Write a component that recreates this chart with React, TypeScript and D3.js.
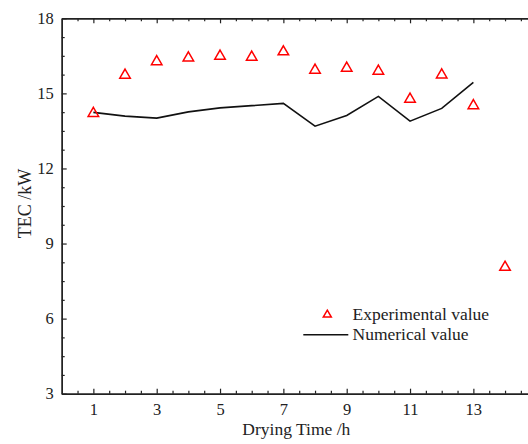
import { useRef, useEffect } from "react";
import { select, scaleLinear, axisBottom, axisLeft, axisTop, axisRight, line, range, symbol, symbolTriangle } from "d3";

const hours = [1, 2, 3, 4, 5, 6, 7, 8, 9, 10, 11, 12, 13, 14];
const experimental = [14.24, 15.77, 16.31, 16.46, 16.53, 16.49, 16.7, 15.97, 16.05, 15.93, 14.81, 15.78, 14.55, 8.09];
const numHours = [1, 2, 3, 4, 5, 6, 7, 8, 9, 10, 11, 12, 13];
const numerical = [14.24, 14.09, 14.01, 14.26, 14.42, 14.51, 14.6, 13.69, 14.12, 14.88, 13.89, 14.4, 15.44];
const xTicks = [1, 3, 5, 7, 9, 11, 13];
const yTicks = [3, 6, 9, 12, 15, 18];

const W = 528;
const H = 444;
const margin = { top: 18.3, left: 61.7, bottom: 50.3 };
const FONT = "'Liberation Serif', 'Times New Roman', serif";
const INK = "#222";

export default function App() {
  const svgRef = useRef<SVGSVGElement>(null);

  useEffect(() => {
    const svg = select(svgRef.current);
    svg.selectAll("*").remove();

    const x = scaleLinear().domain([0, 15]).range([margin.left, margin.left + 15 * 31.667]);
    const y = scaleLinear().domain([3, 18]).range([H - margin.bottom, margin.top]);
    const bottom = H - margin.bottom;

    const xMinor = range(0.5, 15, 0.5).filter((v) => !xTicks.includes(v));
    const yMinor = range(3, 18, 0.75).filter((v) => !yTicks.includes(v));

    const styleAxis = (g: any) => {
      g.select(".domain").attr("stroke", INK).attr("stroke-width", 1.4);
      g.selectAll(".tick line").attr("stroke", INK).attr("stroke-width", 1.2);
      g.selectAll(".tick text").attr("fill", INK).style("font-family", FONT).style("font-size", "16.5px");
    };

    // minor ticks
    svg.append("g").attr("transform", `translate(0,${bottom})`)
      .call(axisBottom(x).tickValues(xMinor).tickSize(-3).tickSizeOuter(0).tickFormat(() => ""))
      .call(styleAxis);
    svg.append("g").attr("transform", `translate(0,${margin.top})`)
      .call(axisTop(x).tickValues(xMinor).tickSize(-3).tickSizeOuter(0).tickFormat(() => ""))
      .call(styleAxis);
    svg.append("g").attr("transform", `translate(${margin.left},0)`)
      .call(axisLeft(y).tickValues(yMinor).tickSize(-3).tickSizeOuter(0).tickFormat(() => ""))
      .call(styleAxis);

    // major axes
    svg.append("g").attr("transform", `translate(0,${bottom})`)
      .call(axisBottom(x).tickValues(xTicks).tickSize(-5).tickSizeOuter(0).tickPadding(10))
      .call(styleAxis)
      .call((g: any) => g.selectAll(".tick text").attr("dy", "0.71em"));
    svg.append("g").attr("transform", `translate(0,${margin.top})`)
      .call(axisTop(x).tickValues([...xTicks, 15]).tickSize(-5).tickSizeOuter(0).tickFormat(() => ""))
      .call(styleAxis);
    svg.append("g").attr("transform", `translate(${margin.left},0)`)
      .call(axisLeft(y).tickValues(yTicks).tickSize(-5).tickSizeOuter(0).tickPadding(8))
      .call(styleAxis);
    svg.append("g").attr("transform", `translate(${x(15)},0)`)
      .call(axisRight(y).tickValues(yTicks).tickSize(-5).tickSizeOuter(0).tickFormat(() => ""))
      .call(styleAxis);

    // numerical line
    const path = line<number>().x((_, i) => x(numHours[i])).y((d) => y(d));
    svg.append("path")
      .datum(numerical)
      .attr("d", path)
      .attr("fill", "none")
      .attr("stroke", "#111")
      .attr("stroke-width", 1.6);

    // experimental triangles
    const tri = symbol().type(symbolTriangle).size(48);
    svg.selectAll(".exp")
      .data(experimental)
      .join("path")
      .attr("class", "exp")
      .attr("transform", (d, i) => `translate(${x(hours[i])},${y(d) + 1})`)
      .attr("d", tri())
      .attr("fill", "none")
      .attr("stroke", "#f00")
      .attr("stroke-width", 1.5);

    // legend
    const legend = svg.append("g");
    legend.append("path")
      .attr("transform", "translate(327.3,314.8)")
      .attr("d", symbol().type(symbolTriangle).size(28)())
      .attr("fill", "none")
      .attr("stroke", "#f00")
      .attr("stroke-width", 1.5);
    legend.append("line")
      .attr("x1", 303.3).attr("x2", 348.3)
      .attr("y1", 334.7).attr("y2", 334.7)
      .attr("stroke", "#111").attr("stroke-width", 1.6);
    legend.selectAll("text")
      .data(["Experimental value", "Numerical value"])
      .join("text")
      .attr("x", 352.5)
      .attr("y", (_, i) => 320 + i * 20)
      .attr("fill", INK)
      .style("font-family", FONT)
      .style("font-size", "17.5px")
      .text((d) => d);

    // axis labels
    svg.append("text")
      .attr("x", 296.3).attr("y", 435)
      .attr("text-anchor", "middle")
      .attr("fill", INK)
      .style("font-family", FONT)
      .style("font-size", "17.5px")
      .text("Drying Time /h");
    svg.append("text")
      .attr("transform", "translate(30.5,203.5) rotate(-90)")
      .attr("text-anchor", "middle")
      .attr("fill", INK)
      .style("font-family", FONT)
      .style("font-size", "18px")
      .text("TEC /kW");
  }, []);

  return (
    <svg
      ref={svgRef}
      width={W}
      height={H}
      style={{ position: "absolute", left: 0, top: 0, background: "#fff" }}
    />
  );
}
